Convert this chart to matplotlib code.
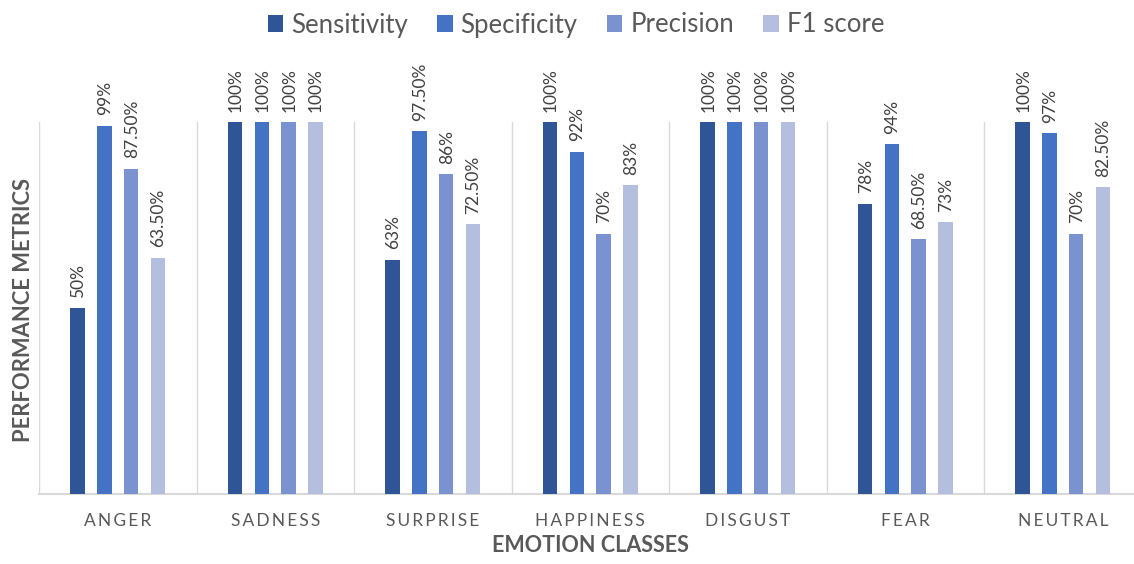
import matplotlib.pyplot as plt
from matplotlib.patches import Patch
import numpy as np

emotions = ["ANGER", "SADNESS", "SURPRISE", "HAPPINESS", "DISGUST", "FEAR", "NEUTRAL"]
metrics = ["Sensitivity", "Specificity", "Precision", "F1 score"]
sensitivity = [50, 100, 63, 100, 100, 78, 100]
specificity = [99, 100, 97.5, 92, 100, 94, 97]
precision = [87.5, 100, 86, 70, 100, 68.5, 70]
f1_score = [63.5, 100, 72.5, 83, 100, 73, 82.5]

colors = ["#2F5597", "#4472C4", "#7A93D0", "#B4BFE0"]
grey = "#595959"

plt.rcParams["font.family"] = ["Lato", "DejaVu Sans"]


def fmt(v):
    if float(v).is_integer():
        return f"{v:.0f}%"
    return f"{v:.2f}%"


fig = plt.figure(figsize=(11.34, 5.64), dpi=100)
ax = fig.add_axes([39 / 1134, 70 / 564, 1102.5 / 1134, 372 / 564])

x = np.arange(len(emotions))
pitch = 0.17
width = 0.092
series = [sensitivity, specificity, precision, f1_score]
for i, (vals, c) in enumerate(zip(series, colors)):
    pos = x + (i - 1.5) * pitch
    ax.bar(pos, vals, width=width, color=c, zorder=3)
    for px, v in zip(pos, vals):
        ax.annotate(fmt(v), (px, v), xytext=(0.5, 7.5), textcoords="offset points",
                    rotation=90, ha="center", va="bottom", fontsize=12.5,
                    color="#404040")

ax.set_xlim(-0.5, len(emotions) - 0.5)
ax.set_ylim(0, 100)
ax.set_xticks(x)
ax.set_xticklabels(["\u2009".join(e) for e in emotions], fontsize=12.5, color=grey)
ax.set_xticks(np.arange(-0.5, len(emotions)), minor=True)
ax.tick_params(axis="x", which="both", length=0, pad=14)
ax.set_yticks([])
ax.grid(axis="x", which="minor", color="#D9D9D9", lw=1)
for s in ["left", "right", "top"]:
    ax.spines[s].set_visible(False)
ax.spines["bottom"].set_color("#D9D9D9")
ax.spines["bottom"].set_linewidth(1.5)

fig.text(590 / 1134, 1 - 545 / 564, "EMOTION CLASSES", ha="center", va="center",
         fontsize=15.5, fontweight="bold", color=grey)
fig.text(24 / 1134, 1 - 310 / 564, "PERFORMANCE METRICS", rotation=90, ha="center",
         va="center", fontsize=15.8, fontweight="bold", color=grey)

handles = [Patch(facecolor=c, label=m) for c, m in zip(colors, metrics)]
fig.legend(handles=handles, loc="center", bbox_to_anchor=(576 / 1134, 1 - 25 / 564),
           ncol=4, frameon=False, fontsize=18.5, handlelength=0.6, handleheight=0.6,
           handletextpad=0.3, columnspacing=1.15, labelcolor=grey)

fig.savefig("out.png", dpi=100)
